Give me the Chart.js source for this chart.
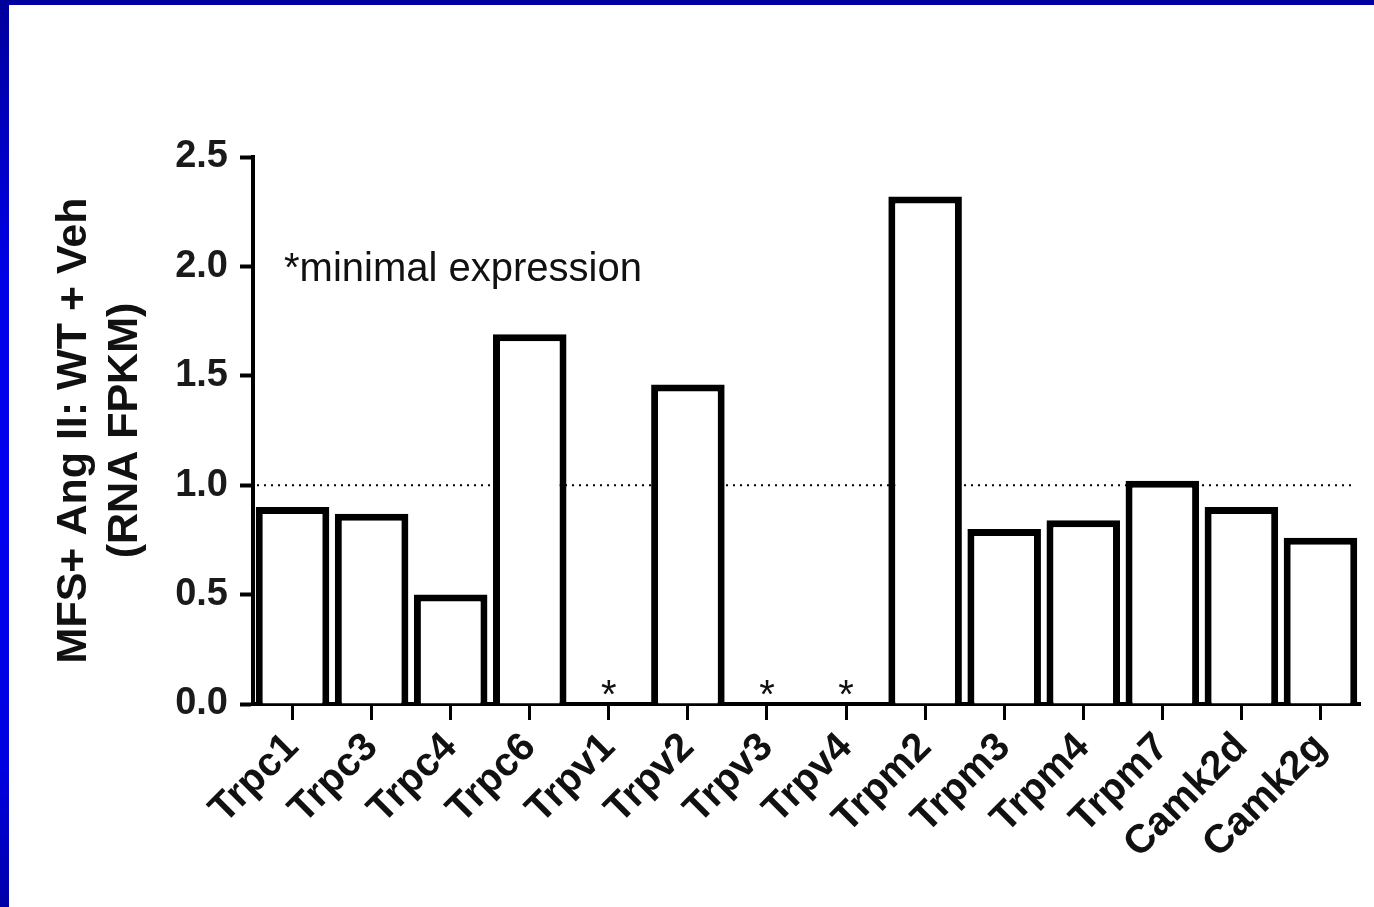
<!DOCTYPE html>
<html>
<head>
<meta charset="utf-8">
<script src="https://cdn.jsdelivr.net/npm/chart.js@4.4.0/dist/chart.umd.min.js"></script>
<style>
  html, body { margin: 0; padding: 0; background: #fff; }
  #wrap { position: relative; width: 1374px; height: 907px; overflow: hidden; background: #fff; }
  #topBar { position: absolute; left: 0; top: 0; width: 1374px; height: 5px; background: #0000a0; z-index: 2; }
  #leftBar { position: absolute; left: 0; top: 0; width: 9px; height: 907px; z-index: 2;
    background: linear-gradient(to bottom, #00009c 0%, #0000e6 30%, #0000f0 55%, #0000e0 85%, #0000a8 100%); }
  #chart { position: absolute; left: 0; top: 0; }
</style>
</head>
<body>
<div id="wrap">
  <div id="topBar"></div>
  <div id="leftBar"></div>
  <canvas id="chart" width="1374" height="907"></canvas>
</div>
<script>
const genes = ['Trpc1', 'Trpc3', 'Trpc4', 'Trpc6', 'Trpv1', 'Trpv2', 'Trpv3',
               'Trpv4', 'Trpm2', 'Trpm3', 'Trpm4', 'Trpm7', 'Camk2d', 'Camk2g'];
const ratios = [0.90, 0.87, 0.50, 1.69, null, 1.46, null,
                null, 2.32, 0.80, 0.84, 1.02, 0.90, 0.76];
// genes with minimal expression (drawn as * on the axis)
const minimalGenes = ['Trpv1', 'Trpv3', 'Trpv4'];
const yTicks = [0, 0.5, 1.0, 1.5, 2.0, 2.5];
const refLine = 1.0;
const noteText = '*minimal expression';

const boldFont = 'Liberation Sans, Arial, sans-serif';

// dotted reference line, asterisks and the note
const extrasPlugin = {
  id: 'extras',
  beforeDatasetsDraw(chart) {
    const { ctx, chartArea, scales } = chart;
    const y = scales.y.getPixelForValue(refLine);
    ctx.save();
    ctx.strokeStyle = '#000';
    ctx.lineWidth = 2;
    ctx.setLineDash([2, 5]);
    ctx.beginPath();
    ctx.moveTo(chartArea.left + 4, y);
    ctx.lineTo(chartArea.right - 8, y);
    ctx.stroke();
    ctx.restore();
  },
  afterDatasetsDraw(chart) {
    const { ctx, chartArea, scales } = chart;
    ctx.save();
    ctx.fillStyle = '#111';
    ctx.font = '40px ' + boldFont;
    ctx.textAlign = 'center';
    ctx.textBaseline = 'alphabetic';
    const y0 = scales.y.getPixelForValue(0);
    minimalGenes.forEach(g => {
      const x = scales.x.getPixelForValue(genes.indexOf(g));
      ctx.fillText('*', x, y0 + 4);
    });
    ctx.textAlign = 'left';
    ctx.fillText(noteText, chartArea.left + 31, scales.y.getPixelForValue(1.935));
    ctx.restore();
  }
};

const ctx = document.getElementById('chart').getContext('2d');
new Chart(ctx, {
  type: 'bar',
  data: {
    labels: genes,
    datasets: [{
      data: ratios,
      backgroundColor: '#fff',
      borderColor: '#000',
      borderWidth: 7,
      barPercentage: 0.93,
      categoryPercentage: 1.0
    }]
  },
  options: {
    responsive: false,
    animation: false,
    layout: { padding: { left: 0, right: 14, top: 157, bottom: 0 } },
    plugins: {
      legend: { display: false },
      tooltip: { enabled: false }
    },
    scales: {
      x: {
        offset: true,
        afterFit(scale) { scale.height = 203; },
        grid: {
          display: true,
          offset: false,
          drawOnChartArea: false,
          drawTicks: true,
          tickLength: 16,
          tickWidth: 3,
          tickColor: '#000'
        },
        border: { display: true, color: '#000', width: 4 },
        ticks: {
          minRotation: 45,
          maxRotation: 45,
          autoSkip: false,
          padding: 4,
          color: '#111',
          font: { family: boldFont, size: 40, weight: 'bold' }
        }
      },
      y: {
        min: 0,
        max: 2.5,
        afterFit(scale) { scale.width = 253; },
        afterBuildTicks(scale) { scale.ticks = yTicks.map(v => ({ value: v })); },
        grid: {
          display: true,
          drawOnChartArea: false,
          drawTicks: true,
          tickLength: 13,
          tickWidth: 4,
          tickColor: '#000'
        },
        border: { display: true, color: '#000', width: 4 },
        ticks: {
          padding: 12,
          color: '#1a1a1a',
          font: { family: boldFont, size: 38, weight: 'bold' },
          callback: v => Number(v).toFixed(1)
        },
        title: {
          display: true,
          text: ['MFS+ Ang II: WT + Veh', '(RNA FPKM)'],
          color: '#111',
          padding: { top: 48, bottom: 0 },
          font: { family: boldFont, size: 43, weight: 'bold', lineHeight: 1.2 }
        }
      }
    }
  },
  plugins: [extrasPlugin]
});
</script>
</body>
</html>
